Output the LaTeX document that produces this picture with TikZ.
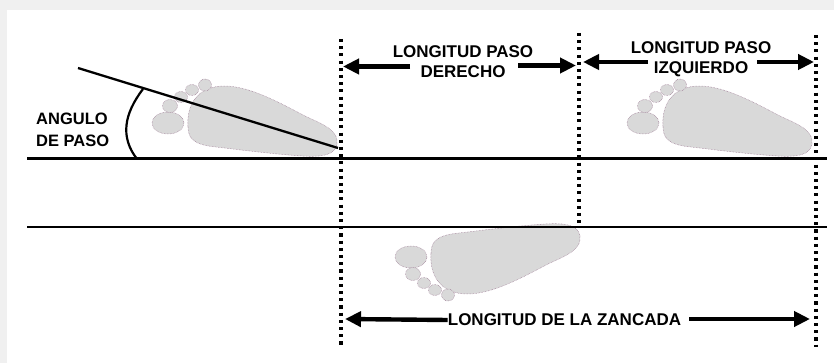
\documentclass[tikz,border=0pt]{standalone}
\usepackage{fontspec}
\setmainfont{Liberation Sans}
\usetikzlibrary{arrows.meta}
\definecolor{framegray}{RGB}{240,240,240}
\definecolor{footfill}{RGB}{217,217,217}
\definecolor{footedge}{RGB}{150,112,140}

% one footprint: sole plus five toes, toes pointing left
\newcommand{\footprintshape}{%
  \filldraw[footpart]
    (188,127) .. controls (186,99) and (203,86) .. (224,86)
    .. controls (250,86) and (280,103) .. (305,116)
    .. controls (322,124) and (339,130) .. (337,144)
    .. controls (335,156) and (320,157) .. (302,156)
    .. controls (272,154) and (242,150) .. (216,147)
    .. controls (196,145) and (188,140) .. (188,127) -- cycle;
  \foreach \cx/\cy/\rx/\ry in {168/123/16/11, 170/106/7.5/6.5,
      181/97/6.5/5.5, 192/90/6.5/5.5, 205/85/6.5/6}
    \filldraw[footpart] (\cx,\cy) ellipse [x radius=\rx pt, y radius=\ry pt];%
}

\begin{document}
\begin{tikzpicture}[x=1pt,y=-1pt,
  footpart/.style={fill=footfill, draw=footedge, line width=0.5pt, densely dotted},
  ground/.style={line width=2.2pt},
  guide/.style={line width=3.3pt, dash pattern=on 3.1pt off 4.1pt},
  measure/.style={line width=4.4pt, -{Triangle[length=16pt,width=15pt]}},
  label/.style={font=\bfseries\fontsize{17}{20}\selectfont, inner sep=0pt, align=center}]

% page with its light frame
\fill[framegray] (0,0) rectangle (834,363);
\fill[white] (7,10) rectangle (834,363);
\useasboundingbox (0,0) rectangle (834,363);

% footprints
\begin{scope}
  \footprintshape
\end{scope}
\begin{scope}[shift={(475pt,0pt)}]
  \footprintshape
\end{scope}
\begin{scope}[shift={(243pt,-380pt)}, yscale=-1]
  \footprintshape
\end{scope}

% walking lines
\coordinate (g1a) at (27,158.5);
\coordinate (g1b) at (827,158.5);
\coordinate (g2a) at (27,227);
\coordinate (g2b) at (827,227);
\draw[ground] (g1a) -- (g1b);
\draw[ground] (g2a) -- (g2b);

% vertical guides
\coordinate (v1t) at (341,39);
\coordinate (v1b) at (341,347);
\coordinate (v2t) at (579,33);
\coordinate (v2b) at (579,228);
\coordinate (v3t) at (816,35);
\coordinate (v3b) at (816,347);
\draw[guide] (v1t) -- (v1b);
\draw[guide] (v2t) -- (v2b);
\draw[guide] (v3t) -- (v3b);

% step angle
\coordinate (axs) at (78,68);
\coordinate (axe) at (338,148);
\draw[line width=2.3pt] (axs) -- (axe);
\coordinate (arcA) at (143,89);
\coordinate (arcB) at (137,159);
\draw[line width=2.2pt] (arcA) .. controls (124,114) and (120,137) .. (arcB);
\node[label, align=left, anchor=west,
      font=\bfseries\fontsize{16.5}{21.5}\selectfont] (ang) at (36,129.75)
  {ANGULO\\DE PASO};

% right step length
\node[label] (der) at (463,62) {LONGITUD PASO\\DERECHO};
\coordinate (derL) at (410,66.5);
\coordinate (derLt) at (343,66.5);
\coordinate (derR) at (518,65.5);
\coordinate (derRt) at (576,65.5);
\draw[measure] (derL) -- (derLt);
\draw[measure] (derR) -- (derRt);

% left step length
\node[label] (izq) at (701,59.5) {LONGITUD PASO\\IZQUIERDO};
\coordinate (izqL) at (648,62);
\coordinate (izqLt) at (583,62);
\coordinate (izqR) at (757,62);
\coordinate (izqRt) at (814,62);
\draw[measure] (izqL) -- (izqLt);
\draw[measure] (izqR) -- (izqRt);

% stride length
\node[label] (zan) at (564.5,320) {LONGITUD DE LA ZANCADA};
\coordinate (zanLt) at (345,319);
\coordinate (zanRt) at (810,319);
\draw[measure] (zan.west) -- (zanLt);
\coordinate (zanR) at (689,319);
\draw[measure] (zanR) -- (zanRt);

\end{tikzpicture}
\end{document}
